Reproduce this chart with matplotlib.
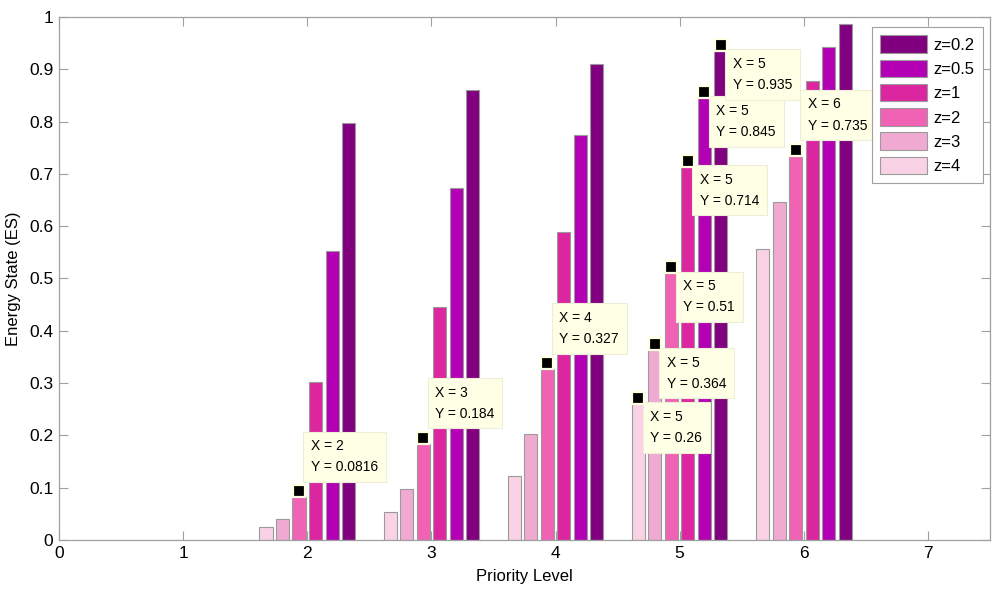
import numpy as np
import matplotlib.pyplot as plt
from matplotlib import transforms

plt.rcParams['font.family'] = ['Liberation Sans', 'DejaVu Sans']

# priority levels and energy state per z value
levels = [1, 2, 3, 4, 5, 6]
z_labels = ['z=4', 'z=3', 'z=2', 'z=1', 'z=0.5', 'z=0.2']
es_z4 = [0, 0.025, 0.053, 0.122, 0.26, 0.557]
es_z3 = [0, 0.041, 0.097, 0.203, 0.364, 0.647]
es_z2 = [0, 0.0816, 0.184, 0.327, 0.51, 0.735]
es_z1 = [0, 0.302, 0.445, 0.589, 0.714, 0.877]
es_z05 = [0, 0.552, 0.673, 0.774, 0.845, 0.943]
es_z02 = [0, 0.797, 0.861, 0.911, 0.935, 0.987]
series = [es_z4, es_z3, es_z2, es_z1, es_z05, es_z02]
colors = ['#FAD2E6', '#F0AAD2', '#F062B4', '#DC26A0', '#B400B4', '#800080']

# data tips: (series index, level index, placement)
tips = [(2, 1, 'up'), (2, 2, 'up'), (2, 3, 'up'),
        (0, 4, 'down'), (1, 4, 'down'), (2, 4, 'down'),
        (3, 4, 'down'), (4, 4, 'down'), (5, 4, 'down'),
        (2, 5, 'up')]

fig = plt.figure(figsize=(10, 6), dpi=100)
ax = fig.add_axes([0.059, 0.1, 0.931, 0.8717])

step = 0.133
width = 0.105
x = np.array(levels, dtype=float)
for i, vals in enumerate(series):
    off = (i - 2.5) * step
    ax.bar(x + off, vals, width, color=colors[i], edgecolor='#9a9a9a',
           linewidth=0.8, label=z_labels[i], zorder=2)

gray = '#a0a0a0'
ax.set_xlim(0, 7.5)
ax.set_ylim(0, 1)
ax.set_xticks(range(0, 8))
ax.set_yticks(np.arange(0, 1.01, 0.1))
ax.set_yticklabels(['0', '0.1', '0.2', '0.3', '0.4', '0.5', '0.6', '0.7', '0.8', '0.9', '1'])
ax.tick_params(direction='in', length=6.5, width=0.8, color=gray,
               top=True, right=True, labelsize=12.5, pad=4)
for s in ax.spines.values():
    s.set_color(gray)
    s.set_linewidth(0.9)
ax.set_xlabel('Priority Level', fontsize=12, labelpad=6)
ax.set_ylabel('Energy State (ES)', fontsize=12, labelpad=6)

# data tip markers and boxes
mark_tr = transforms.offset_copy(ax.transData, fig=fig, x=0, y=6, units='dots')
box = dict(boxstyle='square,pad=0.55', fc='#FFFFE6', ec='#EEEED8', lw=0.8)
for si, li, where in tips:
    xv = levels[li] + (si - 2.5) * step
    yv = series[si][li]
    ax.plot(xv, yv, marker='s', markersize=8, color='black',
            markeredgecolor='#FFFFE1', markeredgewidth=1.6,
            transform=mark_tr, zorder=5, clip_on=False)
    txt = 'X = %d\nY = %s' % (levels[li], ('%.3g' % yv))
    if where == 'down':
        ax.annotate(txt, (xv, yv), xytext=(12, 6 - 12), textcoords='offset pixels',
                    ha='left', va='top', fontsize=10, linespacing=1.65,
                    bbox=box, zorder=4)
    else:
        ax.annotate(txt, (xv, yv), xytext=(12, 6 + 17), textcoords='offset pixels',
                    ha='left', va='bottom', fontsize=10, linespacing=1.65,
                    bbox=box, zorder=4)

h, l = ax.get_legend_handles_labels()
leg = ax.legend(h[::-1], l[::-1], loc='upper right', bbox_to_anchor=(0.9925, 0.981),
                borderaxespad=0, fontsize=12, fancybox=False, framealpha=1,
                edgecolor=gray, handlelength=2.8, handleheight=1.25,
                labelspacing=0.4, handletextpad=0.4, borderpad=0.5)
leg.get_frame().set_linewidth(0.8)
leg.set_zorder(6)

fig.savefig('out.png', dpi=100)
